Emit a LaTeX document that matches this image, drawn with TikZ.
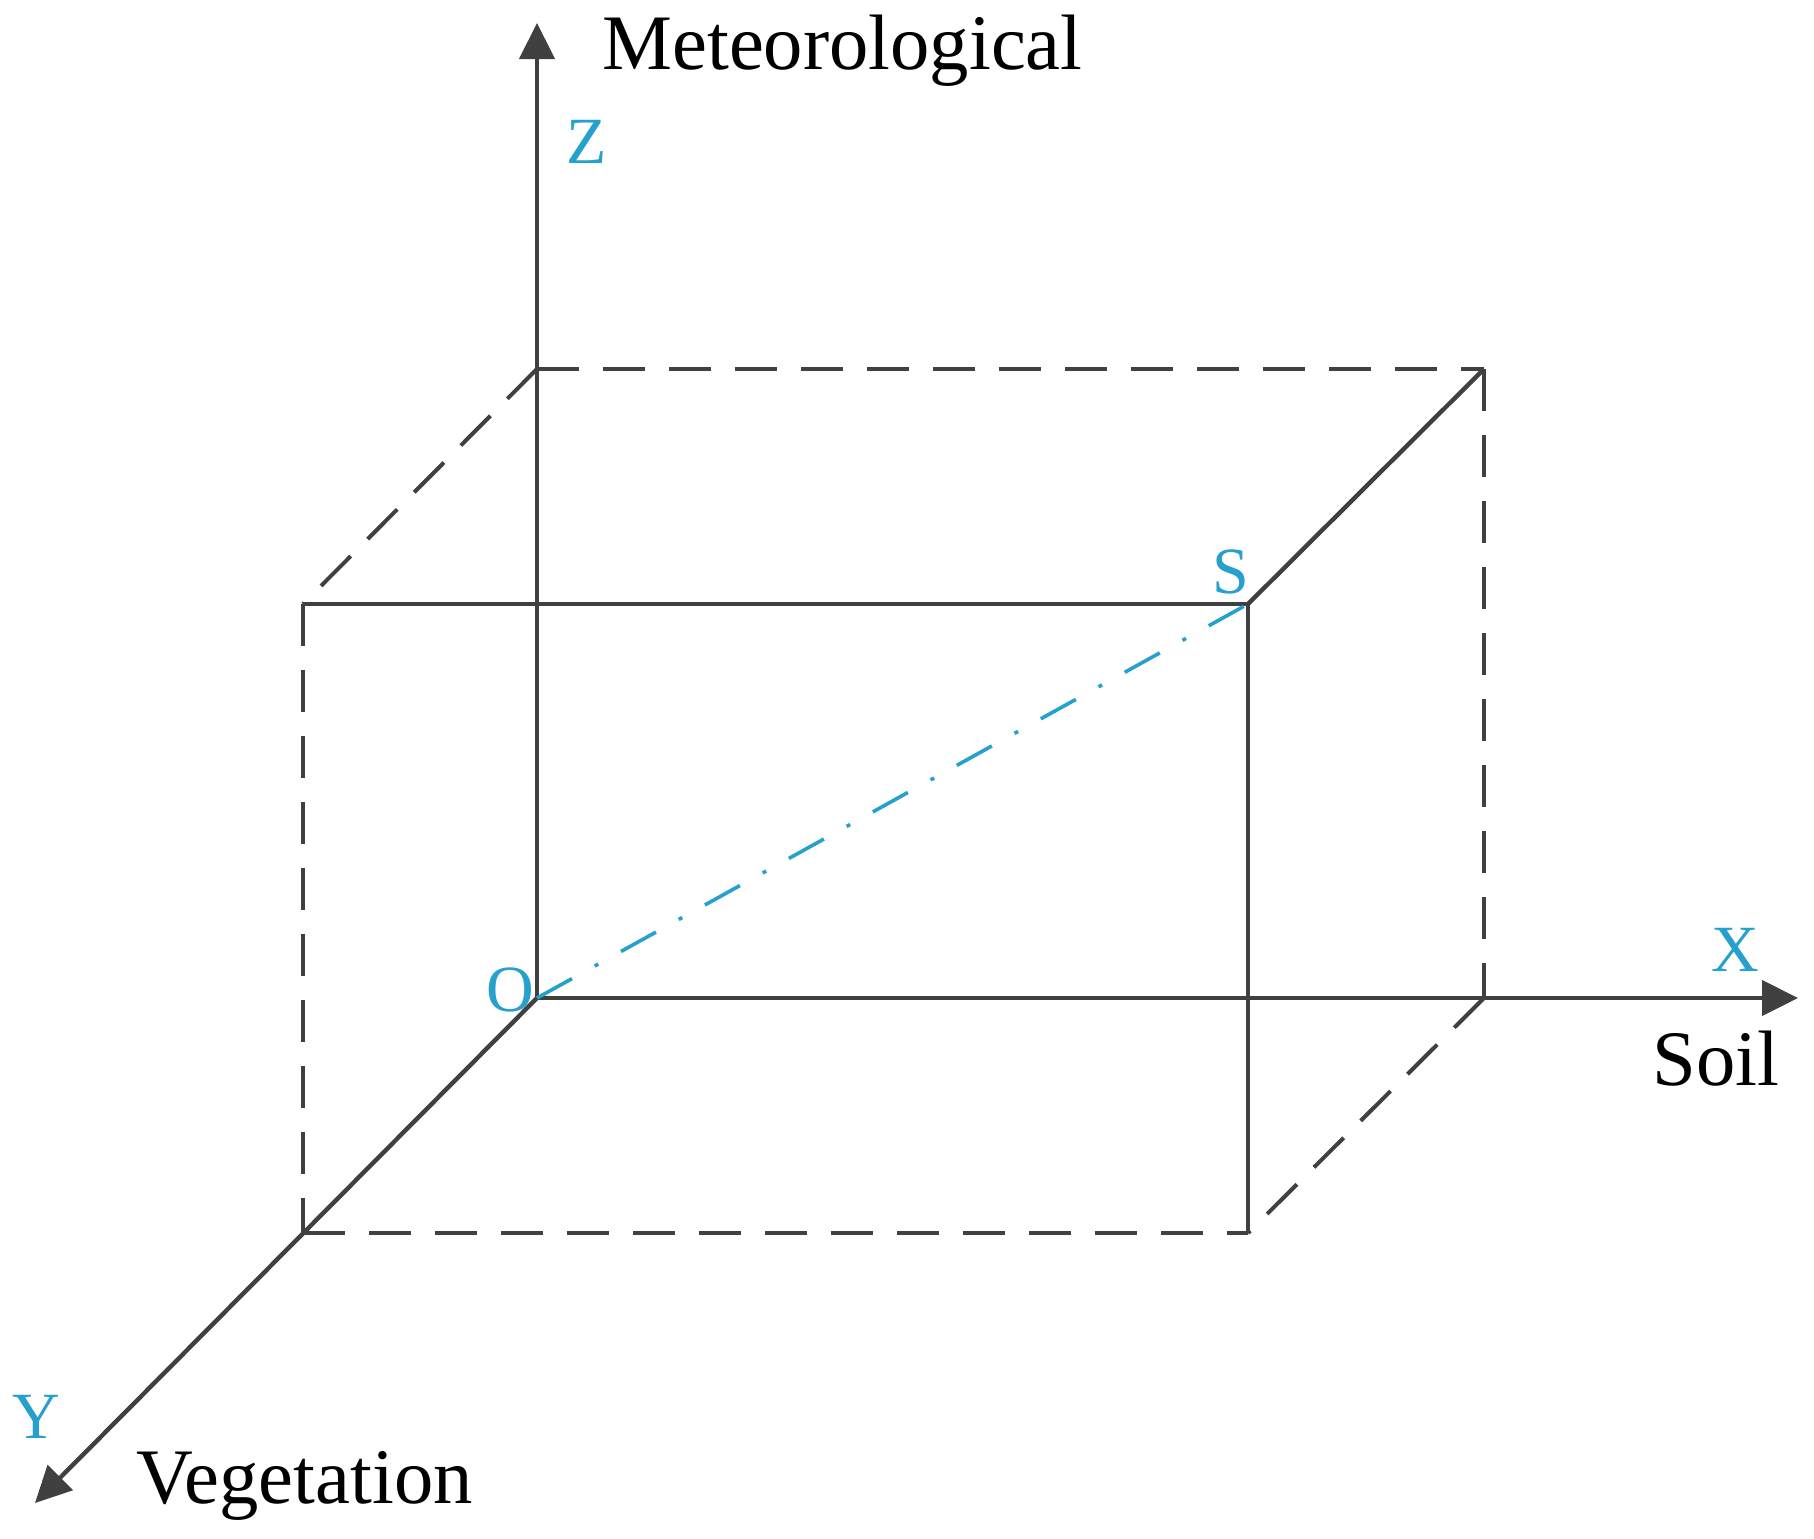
\documentclass[tikz,border=0pt]{standalone}
\usepackage{fontspec}
\setmainfont{Liberation Serif}
\usetikzlibrary{arrows.meta}
\definecolor{axisgrey}{RGB}{64,64,64}
\definecolor{labcyan}{RGB}{38,160,205}
\tikzset{
  edge/.style={draw=axisgrey, line width=2.2pt},
  axisline/.style={edge, -{Triangle[length=18pt,width=17.5pt]}},
  hidden/.style={draw=axisgrey, line width=2pt, dash pattern=on 21pt off 12pt},
  diag/.style={draw=labcyan, line width=1.8pt, dash pattern=on 20pt off 13pt on 2pt off 13pt},
  biglabel/.style={inner sep=0pt, anchor=base west, font=\fontsize{39.3pt}{41pt}\selectfont, text=black},
  axlabel/.style={inner sep=0pt, anchor=base west, font=\fontsize{33pt}{35pt}\selectfont, text=labcyan}
}
\begin{document}
\begin{tikzpicture}[x=0.5pt,y=-0.5pt]
\useasboundingbox (0,0) rectangle (1814,1538);
\fill[white] (0,0) rectangle (1814,1538);
% corners
\coordinate (O) at (537,998);
\coordinate (Ztip) at (537,23);
\coordinate (Xtip) at (1798,998);
\coordinate (Ytip) at (35,1503);
\coordinate (B) at (537,369);
\coordinate (BR) at (1484,369);
\coordinate (FTL) at (303,604);
\coordinate (S) at (1248,604);
\coordinate (FBL) at (303,1233);
\coordinate (FBR) at (1248,1233);
\coordinate (BBR) at (1484,998);
% hidden edges
\draw[hidden] (B) -- (BR);
\draw[hidden] (BR) -- (BBR);
\draw[hidden] (B) -- (FTL);
\draw[hidden] (FTL) -- (FBL);
\draw[hidden] (FBL) -- (FBR);
\draw[hidden] (BBR) -- (FBR);
% visible edges
\draw[edge] (FTL) -- (S);
\draw[edge] (S) -- (FBR);
\draw[edge] (S) -- (BR);
% axes
\draw[axisline] (O) -- (Ztip);
\draw[axisline] (O) -- (Xtip);
\draw[axisline] (O) -- (Ytip);
% diagonal
\draw[diag] (O) -- (S);
% labels
\node[biglabel] (met) at (602,69) {Meteorological};
\node[biglabel] (soil) at (1652,1085) {Soil};
\node[biglabel] (veg) at (136,1503) {Vegetation};
\node[axlabel] (zl) at (566,163) {Z};
\node[axlabel] (sl) at (1212,593) {S};
\node[axlabel] (ol) at (486,1011) {O};
\node[axlabel] (xl) at (1711,971) {X};
\node[axlabel] (yl) at (12,1438) {Y};
\end{tikzpicture}
\end{document}
